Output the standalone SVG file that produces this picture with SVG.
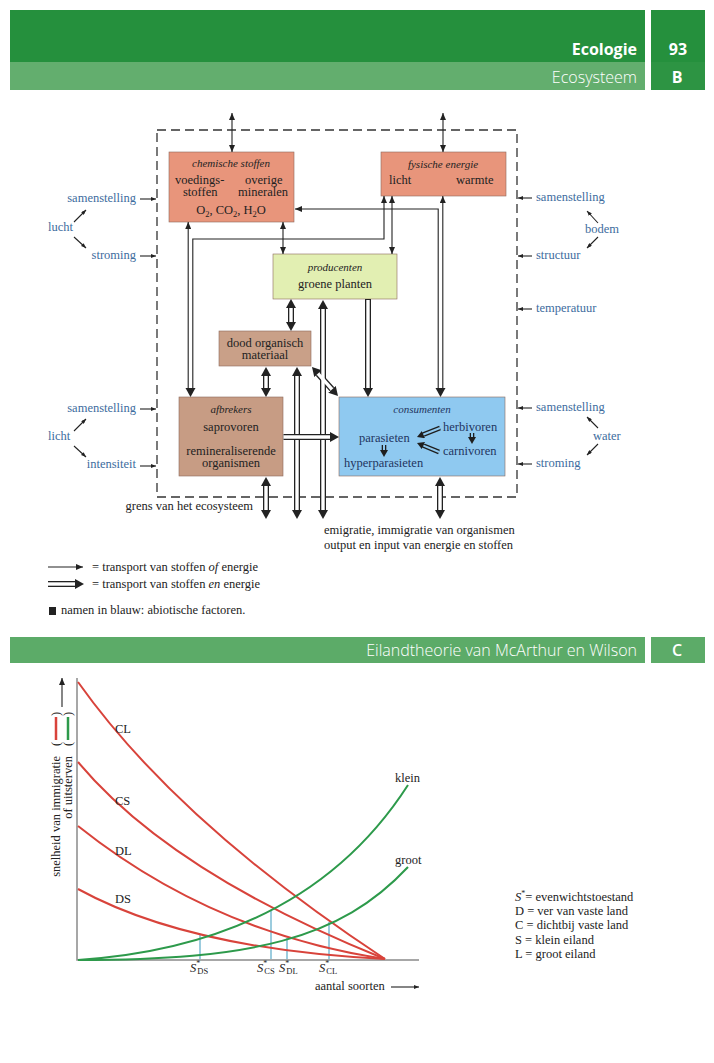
<svg xmlns="http://www.w3.org/2000/svg" width="714" height="1063" viewBox="0 0 714 1063">
<style>
.hd{font-family:"Open Sans","Liberation Sans",sans-serif;fill:#fff}
.sf{font-family:"Liberation Serif","DejaVu Serif",serif;font-size:12.5px;fill:#222}
.it{font-style:italic}
.h11{font-size:11px;font-style:italic}
.nv{fill:#1f3560}
.bl{font-family:"Liberation Serif","DejaVu Serif",serif;font-size:12.5px;fill:#3d6c9e}
.box{stroke:#8c6a5c;stroke-width:0.6}
.thin{fill:none;stroke:#222;stroke-width:1.1}
.dbo{fill:none;stroke:#222;stroke-width:6}
.dbi{fill:none;stroke:#fff;stroke-width:3.4}
.sbo{fill:none;stroke:#1e1e1e;stroke-width:4.6}
.sbi{fill:none;stroke:#8fc9f0;stroke-width:2}
.red{fill:none;stroke:#d8433b;stroke-width:2}
.grn{fill:none;stroke:#2d9a4b;stroke-width:2}
.cy{stroke:#5aaac8;stroke-width:1.2}
.ax{stroke:#8a8a8a;stroke-width:1.5;fill:none}
</style>
<defs>
<marker id="th" viewBox="0 0 7 6" refX="7" refY="3" markerWidth="7" markerHeight="6" markerUnits="userSpaceOnUse" orient="auto-start-reverse"><path d="M0,0 L7,3 L0,6 z" fill="#222"/></marker>
<marker id="ts" viewBox="0 0 5 4" refX="5" refY="2" markerWidth="5" markerHeight="4" markerUnits="userSpaceOnUse" orient="auto-start-reverse"><path d="M0,0 L5,2 L0,4 z" fill="#222"/></marker>
<marker id="big" viewBox="0 0 9 10" refX="0" refY="5" markerWidth="9" markerHeight="10" markerUnits="userSpaceOnUse" orient="auto-start-reverse"><path d="M0,0 L9,5 L0,10 z" fill="#222"/></marker>
<marker id="sm" viewBox="0 0 7 8" refX="0" refY="4" markerWidth="7" markerHeight="8" markerUnits="userSpaceOnUse" orient="auto-start-reverse"><path d="M0,0 L7,4 L0,8 z" fill="#1e1e1e"/></marker>
</defs>
<rect width="714" height="1063" fill="#fff"/>

<g id="header-B">
<rect x="10" y="10" width="635" height="52" fill="#25903d"/>
<rect x="651" y="10" width="54" height="52" fill="#25903d"/>
<rect x="10" y="62" width="635" height="28" fill="#63ae6e"/>
<rect x="651" y="62" width="54" height="28" fill="#2d9443"/>
<text class="hd" x="637" y="55" text-anchor="end" font-size="16" font-weight="700">Ecologie</text>
<text class="hd" x="678" y="55" text-anchor="middle" font-size="16" font-weight="700">93</text>
<text class="hd" x="637" y="83" text-anchor="end" font-size="16" font-weight="300">Ecosysteem</text>
<text class="hd" x="677" y="83" text-anchor="middle" font-size="16" font-weight="700">B</text>
</g>

<g id="boundary">
<rect x="157" y="130" width="360" height="367" fill="none" stroke="#333" stroke-width="1.3" stroke-dasharray="9 5"/>
<text class="sf" x="253" y="510" text-anchor="end">grens van het ecosysteem</text>
<text class="sf" x="324" y="534">emigratie, immigratie van organismen</text>
<text class="sf" x="324" y="549">output en input van energie en stoffen</text>
</g>

<g id="chemische-stoffen">
<rect class="box" x="169" y="152" width="125" height="70" fill="#e8957b"/>
<text class="sf h11" x="231" y="167" text-anchor="middle">chemische stoffen</text>
<text class="sf" x="175" y="184">voedings-</text>
<text class="sf" x="245" y="184">overige</text>
<text class="sf" x="183" y="196">stoffen</text>
<text class="sf" x="238" y="196">mineralen</text>
<text class="sf" x="231" y="214" text-anchor="middle" font-size="13.5">O<tspan font-size="8.5" dy="3">2</tspan><tspan dy="-3">, CO</tspan><tspan font-size="8.5" dy="3">2</tspan><tspan dy="-3">, H</tspan><tspan font-size="8.5" dy="3">2</tspan><tspan dy="-3">O</tspan></text>
</g>

<g id="fysische-energie">
<rect class="box" x="381" y="152" width="125" height="44" fill="#e8957b"/>
<text class="sf h11" x="443" y="168" text-anchor="middle">fysische energie</text>
<text class="sf" x="389" y="184">licht</text>
<text class="sf" x="456" y="184">warmte</text>
</g>

<g id="producenten">
<rect class="box" x="273" y="254" width="124" height="45" fill="#e2efb2"/>
<text class="sf h11" x="335" y="271" text-anchor="middle">producenten</text>
<text class="sf" x="335" y="288" text-anchor="middle">groene planten</text>
</g>

<g id="dood-organisch-materiaal">
<rect class="box" x="219" y="331" width="92" height="35" fill="#c9a088"/>
<text class="sf" x="265" y="347" text-anchor="middle">dood organisch</text>
<text class="sf" x="265" y="359" text-anchor="middle">materiaal</text>
</g>

<g id="afbrekers">
<rect class="box" x="179" y="397" width="104" height="79" fill="#c79c84"/>
<text class="sf h11" x="231" y="413" text-anchor="middle">afbrekers</text>
<text class="sf" x="231" y="431" text-anchor="middle">saprovoren</text>
<text class="sf" x="231" y="455" text-anchor="middle">remineraliserende</text>
<text class="sf" x="231" y="467" text-anchor="middle">organismen</text>
</g>

<g id="consumenten">
<rect class="box" x="339" y="397" width="166" height="79" fill="#8fc9f0" stroke="#6b8aa8"/>
<text class="sf h11 nv" x="422" y="413" text-anchor="middle">consumenten</text>
<text class="sf nv" x="443" y="431">herbivoren</text>
<text class="sf nv" x="359" y="442">parasieten</text>
<text class="sf nv" x="443" y="455">carnivoren</text>
<text class="sf nv" x="344" y="467">hyperparasieten</text>
</g>

<g id="abiotic-left">
<text class="bl" x="136" y="202" text-anchor="end">samenstelling</text>
<text class="bl" x="48" y="231">lucht</text>
<text class="bl" x="136" y="259" text-anchor="end">stroming</text>
<text class="bl" x="136" y="412" text-anchor="end">samenstelling</text>
<text class="bl" x="48" y="440">licht</text>
<text class="bl" x="136" y="468" text-anchor="end">intensiteit</text>
</g>
<g id="abiotic-right">
<text class="bl" x="536" y="201">samenstelling</text>
<text class="bl" x="585" y="233">bodem</text>
<text class="bl" x="536" y="259">structuur</text>
<text class="bl" x="536" y="312">temperatuur</text>
<text class="bl" x="536" y="411">samenstelling</text>
<text class="bl" x="593" y="440">water</text>
<text class="bl" x="536" y="467">stroming</text>
</g>

<g id="connectors">
<path class="thin" d="M232,113 V152" marker-start="url(#th)" marker-end="url(#th)"/>
<path class="thin" d="M443,113 V152" marker-start="url(#th)" marker-end="url(#th)"/>
<path class="thin" d="M283,222 V254" marker-start="url(#th)" marker-end="url(#th)"/>
<path class="thin" d="M392,196 V254" marker-start="url(#th)" marker-end="url(#th)"/>
<path class="thin" d="M188.2,388 V222" marker-end="url(#th)"/>
<path class="thin" d="M192.8,388 V239 H384 V196" marker-end="url(#th)"/>
<path class="thin" d="M438.2,388 V209 H295" marker-end="url(#th)"/>
<path class="thin" d="M442.8,388 V196" marker-end="url(#th)"/>
<path d="M185.5,388 L195.5,388 L190.5,397 z" fill="#222"/>
<path d="M435.5,388 L445.5,388 L440.5,397 z" fill="#222"/>
<path class="thin" d="M140,199 H156" marker-end="url(#ts)"/>
<path class="thin" d="M140,256 H156" marker-end="url(#ts)"/>
<path class="thin" d="M140,409 H156" marker-end="url(#ts)"/>
<path class="thin" d="M140,466 H156" marker-end="url(#ts)"/>
<path class="thin" d="M74,222 L86,210" marker-end="url(#ts)"/>
<path class="thin" d="M74,237 L86,248" marker-end="url(#ts)"/>
<path class="thin" d="M74,431 L86,419" marker-end="url(#ts)"/>
<path class="thin" d="M74,446 L86,457" marker-end="url(#ts)"/>
<path class="thin" d="M532,198 H518" marker-end="url(#ts)"/>
<path class="thin" d="M532,256 H518" marker-end="url(#ts)"/>
<path class="thin" d="M532,309 H518" marker-end="url(#ts)"/>
<path class="thin" d="M532,408 H518" marker-end="url(#ts)"/>
<path class="thin" d="M532,464 H518" marker-end="url(#ts)"/>
<path class="thin" d="M598,223 L587,211" marker-end="url(#ts)"/>
<path class="thin" d="M598,237 L587,248" marker-end="url(#ts)"/>
<path class="thin" d="M598,428 L587,417" marker-end="url(#ts)"/>
<path class="thin" d="M598,444 L587,455" marker-end="url(#ts)"/>
<path class="dbo" d="M368,299 V388" marker-end="url(#big)"/>
<path class="dbo" d="M291,308 V322" marker-start="url(#big)" marker-end="url(#big)"/>
<path class="dbo" d="M266,376 V388" marker-start="url(#big)" marker-end="url(#big)"/>
<path class="dbo" d="M318,373.7 L332,389.3" marker-start="url(#big)" marker-end="url(#big)"/>
<path class="dbo" d="M266,486 V510" marker-start="url(#big)" marker-end="url(#big)"/>
<path class="dbo" d="M297,376 V510" marker-start="url(#big)" marker-end="url(#big)"/>
<path class="dbo" d="M323,309 V510" marker-start="url(#big)" marker-end="url(#big)"/>
<path class="dbo" d="M440,486 V510" marker-start="url(#big)" marker-end="url(#big)"/>
<path class="dbi" d="M368,300 V388"/>
<path class="dbi" d="M291,308 V322"/>
<path class="dbi" d="M266,376 V388"/>
<path class="dbi" d="M318,373.7 L332,389.3"/>
<path class="dbi" d="M266,486 V510"/>
<path class="dbi" d="M297,376 V510"/>
<path class="dbi" d="M323,309 V510"/>
<path class="dbi" d="M440,486 V510"/>
<path class="dbo" d="M283.5,437 H330" marker-end="url(#big)"/>
<path class="dbi" d="M283.5,437 H330"/>
<path class="sbo" d="M440,428 L423.5,434.5" marker-end="url(#sm)"/>
<path class="sbo" d="M439,452 L423.5,445.6" marker-end="url(#sm)"/>
<path class="sbo" d="M472,433 V437" marker-end="url(#sm)"/>
<path class="sbo" d="M384,445 V450" marker-end="url(#sm)"/>
<path class="sbi" d="M440,428 L423.5,434.5"/>
<path class="sbi" d="M439,452 L423.5,445.6"/>
<path class="sbi" d="M472,433 V437"/>
<path class="sbi" d="M384,445 V450"/>
</g>

<g id="legend-B">
<path class="thin" d="M48,567 H83" marker-end="url(#th)"/>
<text class="sf" x="92" y="571">= transport van stoffen <tspan class="it">of</tspan> energie</text>
<path class="dbo" d="M48,584 H75" marker-end="url(#big)"/>
<path class="dbi" d="M48,584 H75"/>
<text class="sf" x="92" y="588">= transport van stoffen <tspan class="it">en</tspan> energie</text>
<rect x="49" y="607" width="7" height="8" fill="#222"/>
<text class="sf" x="61" y="614" font-size="10.5">namen in blauw: abiotische factoren.</text>
</g>

<g id="header-C">
<rect x="10" y="637" width="635" height="26" fill="#5cab68"/>
<rect x="651" y="637" width="54" height="26" fill="#5cab68"/>
<text class="hd" x="637" y="656" text-anchor="end" font-size="16" font-weight="300">Eilandtheorie van McArthur en Wilson</text>
<text class="hd" x="677" y="656" text-anchor="middle" font-size="16" font-weight="600">C</text>
</g>

<g id="graph">
<text class="sf" transform="translate(60,873) rotate(-90)" x="117" text-anchor="end" font-size="12">snelheid van immigratie</text>
<text class="sf" transform="translate(72,873) rotate(-90)" x="117" text-anchor="end" font-size="12">of uitsterven</text>
<text class="sf" transform="translate(60,873) rotate(-90)" x="127" font-size="12">(</text>
<text class="sf" transform="translate(60,873) rotate(-90)" x="157" font-size="12">)</text>
<text class="sf" transform="translate(72,873) rotate(-90)" x="127" font-size="12">(</text>
<text class="sf" transform="translate(72,873) rotate(-90)" x="157" font-size="12">)</text>
<line x1="56" y1="740" x2="56" y2="717" stroke="#d8433b" stroke-width="2.5"/>
<line x1="68" y1="740" x2="68" y2="717" stroke="#2d9a4b" stroke-width="2.5"/>
<path class="thin" d="M62,707 V678" marker-end="url(#th)"/>
<path class="ax" d="M77,678 V960 H419"/>
<line class="cy" x1="200" y1="935" x2="200" y2="959"/>
<line class="cy" x1="271" y1="910" x2="271" y2="959"/>
<line class="cy" x1="287" y1="938" x2="287" y2="959"/>
<line class="cy" x1="329" y1="922" x2="329" y2="959"/>
<path class="red" d="M78,682 Q178,823 385,959"/>
<path class="red" d="M78,762 Q171,873 385,959"/>
<path class="red" d="M78,826 Q212,933 385,959"/>
<path class="red" d="M78,889 Q187,949 385,959"/>
<path class="grn" d="M78,960 Q305,945 408,785"/>
<path class="grn" d="M78,960 C250,960 340,940 408,867"/>
<text class="sf" x="115" y="733">CL</text>
<text class="sf" x="115" y="805">CS</text>
<text class="sf" x="115" y="855">DL</text>
<text class="sf" x="115" y="903">DS</text>
<text class="sf" x="395" y="782">klein</text>
<text class="sf" x="395" y="864">groot</text>
<text class="sf" x="190" y="972" font-size="13"><tspan class="it">S</tspan><tspan font-size="8" dy="-6">*</tspan><tspan font-size="8.5" dx="-3" dy="8">DS</tspan></text>
<text class="sf" x="257" y="972" font-size="13"><tspan class="it">S</tspan><tspan font-size="8" dy="-6">*</tspan><tspan font-size="8.5" dx="-3" dy="8">CS</tspan></text>
<text class="sf" x="279" y="972" font-size="13"><tspan class="it">S</tspan><tspan font-size="8" dy="-6">*</tspan><tspan font-size="8.5" dx="-3" dy="8">DL</tspan></text>
<text class="sf" x="319" y="972" font-size="13"><tspan class="it">S</tspan><tspan font-size="8" dy="-6">*</tspan><tspan font-size="8.5" dx="-3" dy="8">CL</tspan></text>
<text class="sf" x="315" y="990">aantal soorten</text>
<path class="thin" d="M391,987 H419" marker-end="url(#ts)"/>
</g>

<g id="legend-C">
<text class="sf" x="515" y="901"><tspan class="it">S</tspan><tspan font-size="8" dy="-5">*</tspan><tspan dy="5">= evenwichtstoestand</tspan></text>
<text class="sf" x="515" y="915">D  = ver van vaste land</text>
<text class="sf" x="515" y="929">C  = dichtbij vaste land</text>
<text class="sf" x="515" y="944">S  = klein eiland</text>
<text class="sf" x="515" y="958">L  = groot eiland</text>
</g>
</svg>
